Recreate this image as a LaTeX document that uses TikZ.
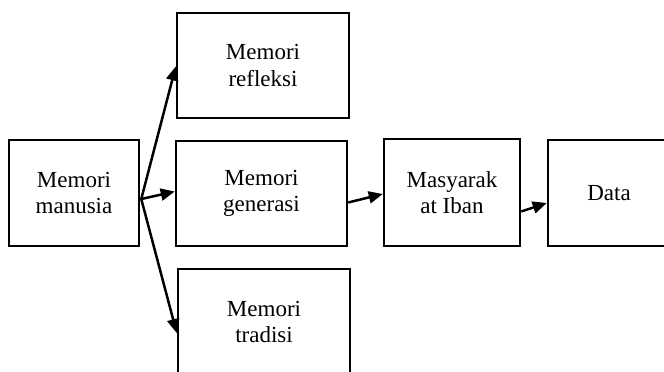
\documentclass[tikz,border=0pt]{standalone}
\usepackage{fontspec}
\setmainfont{Liberation Serif}
\usetikzlibrary{arrows.meta,calc}
\tikzset{
  box/.style={draw=black, line width=2.5pt, align=center, inner sep=0pt,
    font=\fontsize{23}{26.5}\selectfont},
  conn/.style={line width=2.5pt, -{Triangle[length=14pt,width=12pt]}}
}
\begin{document}
\begin{tikzpicture}[x=1pt,y=-1pt]
\useasboundingbox (0,0) rectangle (664,372);
\clip (0,0) rectangle (664,372);
\node[box, minimum width=130pt, minimum height=106pt] (man) at (74,193) {Memori\\manusia};
\node[box, minimum width=172pt, minimum height=105pt] (refl) at (263,65.5) {Memori\\refleksi};
\node[box, minimum width=171pt, minimum height=105pt] (gen) at (261.5,193.5) {Memori\\generasi};
\node[box, minimum width=172pt, minimum height=106pt] (trad) at (264,322) {Memori\\tradisi};
\node[box, minimum width=136pt, minimum height=107pt] (mas) at (452,192.5) {Masyarak\\at Iban};
\node[box, minimum width=122pt, minimum height=106pt] (data) at (609,193) {Data};
\coordinate (ms) at ($(man.east)+(1,6)$);
\coordinate (reflin) at ($(refl.west)+(0,1)$);
\coordinate (genin) at ($(gen.west)+(0,-2)$);
\coordinate (tradin) at ($(trad.west)+(0,11)$);
\coordinate (genout) at ($(gen.east)+(0,9)$);
\coordinate (masin) at ($(mas.west)+(0,1.5)$);
\coordinate (masout) at ($(mas.east)+(0,19)$);
\coordinate (datain) at ($(data.west)+(0,10)$);
\draw[conn] (ms) -- (reflin);
\draw[conn] (ms) -- (genin);
\draw[conn] (ms) -- (tradin);
\draw[conn] (genout) -- (masin);
\draw[conn] (masout) -- (datain);
\end{tikzpicture}
\end{document}
